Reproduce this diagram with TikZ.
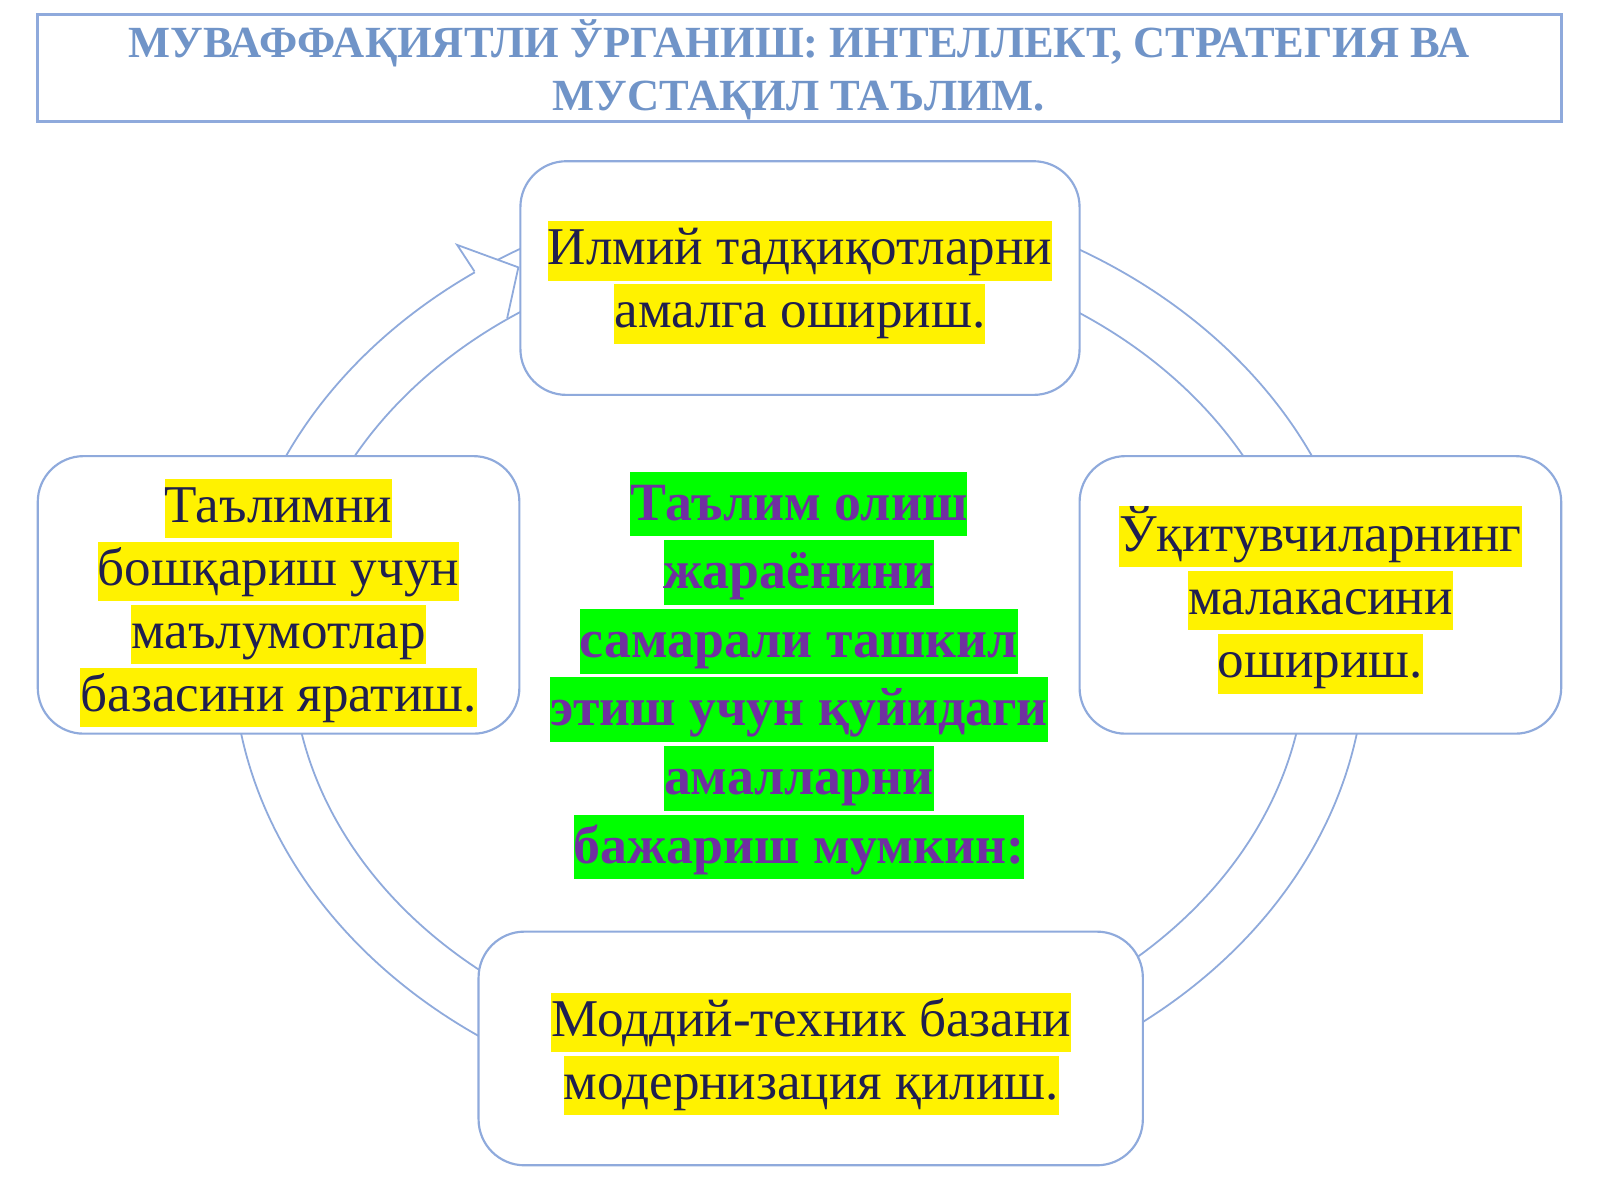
\documentclass[tikz,border=0pt]{standalone}
\usepackage{fontspec}
\setmainfont{Liberation Serif}
\definecolor{edge}{HTML}{8FAADC}
\definecolor{ttl}{HTML}{7094C8}
\definecolor{ink}{HTML}{1F1F4F}
\definecolor{purp}{HTML}{7030A0}
\definecolor{grn}{HTML}{00FF00}
\setlength{\fboxsep}{0pt}
\newcommand{\hy}[1]{\colorbox{yellow}{\rule[-0.3em]{0pt}{1.12em}#1}}
\newcommand{\hg}[1]{\colorbox{grn}{\rule[-0.3em]{0pt}{1.2em}#1}}
\begin{document}
\begin{tikzpicture}[x=0.01cm,y=-0.01cm,
  box/.style={draw=edge,line width=0.6pt,fill=white,rounded corners=0.45cm},
  btxt/.style={align=center,text=ink,font=\fontsize{14.8pt}{16.3pt}\selectfont,inner sep=0pt},
  ring/.style={draw=edge,line width=0.5pt}]
\useasboundingbox (0,0) rectangle (1568,1176);
\fill[white] (0,0) rectangle (1568,1176);
% ring
\draw[ring] (783,640) ellipse [x radius=555, y radius=455];
\draw[ring] (783,640) ellipse [x radius=497, y radius=400];
\filldraw[ring,fill=white] (465,266) -- (448,240) -- (508,262) -- (497,312);
% title
\draw[edge,line width=0.8pt] (37,14) rectangle (1530,119);
\node[align=center,text=ttl,font=\fontsize{12.4pt}{14.8pt}\selectfont\bfseries,inner sep=0pt] (title) at (783,68)
  {МУВАФФАҚИЯТЛИ ЎРГАНИШ: ИНТЕЛЛЕКТ, СТРАТЕГИЯ ВА\\МУСТАҚИЛ ТАЪЛИМ.};
% boxes
\draw[box] (510,158) rectangle (1058,387);
\draw[box] (37,447) rectangle (509,719);
\draw[box] (1058,447) rectangle (1530,719);
\draw[box] (469,913) rectangle (1120,1142);
\node[btxt] (top) at (784,277) {\hy{Илмий тадқиқотларни}\\\hy{амалга ошириш.}};
\node[btxt] (left) at (273,591) {\hy{Таълимни}\\\hy{бошқариш учун}\\\hy{маълумотлар}\\\hy{базасини яратиш.}};
\node[btxt] (right) at (1294,588) {\hy{Ўқитувчиларнинг}\\\hy{малакасини}\\\hy{ошириш.}};
\node[btxt] (bottom) at (795,1033) {\hy{Моддий-техник базани}\\\hy{модернизация қилиш.}};
\node[align=center,text=purp,font=\fontsize{15pt}{19.1pt}\selectfont\bfseries,inner sep=0pt] (center) at (783,662)
  {\hg{Таълим олиш}\\\hg{жараёнини}\\\hg{самарали ташкил}\\\hg{этиш учун қуйидаги}\\\hg{амалларни}\\\hg{бажариш мумкин:}};
\end{tikzpicture}
\end{document}
